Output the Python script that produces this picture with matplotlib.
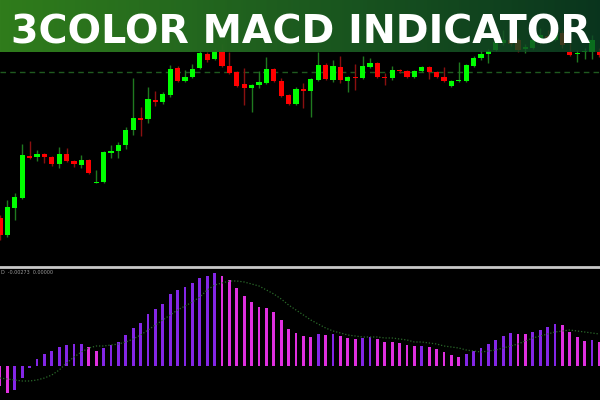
import numpy as np
import matplotlib
matplotlib.use("Agg")
import matplotlib.pyplot as plt

# candle data (price points)
opens = [182, 165, 192, 202, 244, 243, 246, 243, 236, 246, 239, 235, 240, 217.5, 218, 247, 249, 255, 270, 282,
         281, 300, 298, 305, 332, 319, 323, 332, 346, 341, 350, 334, 328, 316, 312, 315, 317, 331, 319, 305,
         296, 311, 309, 320, 335, 320, 333, 319, 323, 322, 333, 337, 323, 322, 330, 329, 323, 329, 333, 328,
         323, 314, 319, 319, 334, 342, 346, 350, 357, 360, 360, 351, 352, 358, 364, 360, 367, 348, 346, 348,
         348, 348]
closes = [165, 193, 203, 245, 242, 246, 243, 236, 246, 239, 236, 240, 227, 218.5, 248, 249, 255, 270, 282, 280,
          301, 298, 306, 331, 319, 323, 331, 347, 340, 349, 334, 327, 314, 312, 315, 318, 331, 319, 304, 296,
          311, 309, 321, 335, 321, 334, 320, 323, 322, 334, 337, 323, 322, 330, 329, 323, 329, 333, 328, 323,
          319, 319, 320, 335, 342, 346, 349, 358, 360, 356, 350, 353, 360, 365, 360, 368, 355, 345, 347, 349,
          360, 345]
highs = [185, 200, 207, 256, 259, 250, 247, 244, 253, 252, 240, 245, 241, 230, 249, 255, 258, 273, 322, 293,
         313, 309, 308, 335, 334, 330, 336, 350, 348, 352, 356, 348, 329, 332, 316, 329, 343, 332, 322, 306,
         313, 317, 322, 348, 337, 340, 344, 324, 336, 344, 342, 338, 327, 334, 331, 330, 330, 334, 334, 329,
         333, 320, 338, 336, 344, 350, 351, 362, 370, 367, 362, 356, 370, 372, 370, 375, 370, 360, 350, 352,
         365, 352]
lows = [160, 163, 180, 201, 241, 239, 237, 234, 232, 238, 233, 232, 226, 217, 217, 242, 242, 251, 265, 264,
        277, 294, 296, 303, 318, 318, 322, 331, 338, 340, 333, 326, 313, 295, 288, 312, 316, 318, 303, 295,
        295, 292, 283, 319, 320, 318, 317, 308, 310, 321, 332.5, 322, 315, 320, 327, 322, 322, 328, 321, 322,
        318, 313, 318, 318, 333, 340, 337, 349, 355, 354, 348, 347, 351, 356, 358, 359, 352, 344, 338, 341,
        341, 343]
level = 328

# MACD histogram and signal (x 1e-5)
macd = [-60, -81, -72, -36, -6, 21, 36, 45, 57, 63, 66, 67, 57, 45, 54, 63, 72, 93, 114, 129,
        156, 171, 186, 216, 228, 237, 249, 264, 270, 279, 270, 258, 234, 210, 192, 177, 174, 162, 138, 111,
        99, 90, 87, 96, 93, 96, 90, 84, 81, 84, 87, 81, 72, 71, 69, 63, 60, 61, 57, 51,
        42, 33, 27, 36, 45, 54, 66, 78, 90, 99, 96, 95, 102, 108, 117, 126, 123, 102, 87, 75,
        78, 72]
signal = [-36, -39, -42, -45, -45, -42, -36, -27, -12, 9, 27, 42, 54, 60, 60, 63, 66, 72, 81, 93,
          108, 123, 138, 153, 168, 180, 192, 207, 228, 243, 249, 255, 255, 252, 246, 240, 228, 216, 201, 183,
          168, 153, 138, 126, 114, 105, 99, 93, 90, 87, 87, 87, 84, 84, 81, 78, 72, 72, 69, 66,
          60, 57, 54, 48, 45, 42, 45, 48, 54, 60, 66, 75, 84, 90, 96, 102, 105, 108, 105, 102,
          99, 96]

title = "3COLOR MACD INDICATOR"

idx = np.arange(len(opens))
macd = np.array(macd) * 1e-5
signal = np.array(signal) * 1e-5

fig = plt.figure(figsize=(6, 4), dpi=100, facecolor="black")

# price panel
ax = fig.add_axes([0, 135 / 400, 1, 265 / 400], facecolor="black")
for i in idx:
    o, c, h, l = opens[i], closes[i], highs[i], lows[i]
    up = c >= o
    body_col = "#00ff00" if up else "#ff0000"
    wick_col = "#1f7a1f" if up else "#8a1010"
    ax.vlines(i, l, h, color=wick_col, linewidth=1, zorder=1)
    ax.bar(i, max(abs(c - o), 0.8), bottom=min(o, c), width=0.7, color=body_col, zorder=2)
ax.axhline(level, color="#1f5a1f", linewidth=1, linestyle=(0, (4, 3)), zorder=0)
ax.set_xlim(0, 81.08)
ax.set_ylim(135, 400)
ax.axis("off")

# MACD panel
ax2 = fig.add_axes([0, 0, 1, 133 / 400], facecolor="black")
diff = np.diff(macd, prepend=macd[0] + 1e-5)
colors = ["#8426e6" if d > 0 else "#e030e0" for d in diff]
ax2.bar(idx, macd, width=0.4, color=colors, zorder=2)
ax2.plot(idx, signal, color="#2a6a2a", linewidth=0.9, linestyle=(0, (1, 1.5)), zorder=3)
ax2.set_xlim(0, 81.08)
ax2.set_ylim(-0.00102, 0.00297)
ax2.set_xticks([])
ax2.set_yticks([])
for s in ["left", "right", "bottom"]:
    ax2.spines[s].set_visible(False)
ax2.spines["top"].set_color("#c8c8c8")
ax2.spines["top"].set_linewidth(2)
ax2.text(0.002, 0.975, "D  -0.00273  0.00000", transform=ax2.transAxes, color="#9a9a9a",
         fontsize=3.5, va="top", ha="left")

# title banner
bax = fig.add_axes([0, 1 - 52 / 400, 1, 52 / 400], zorder=10)
grad = np.zeros((1, 256, 4))
t = np.linspace(0, 1, 256)
left = np.array([0.19, 0.49, 0.11])
right = np.array([0.05, 0.27, 0.15])
grad[0, :, :3] = left + (right - left) * t[:, None]
grad[0, :, 3] = 1.0 - 0.22 * t ** 2
bax.imshow(grad, aspect="auto", extent=[0, 1, 0, 1])
bax.set_xlim(0, 1)
bax.set_ylim(0, 1)
bax.axis("off")

txt = fig.text(0.502, 1 - 43 / 400, title, color="white", fontsize=30, fontweight="bold",
               family="DejaVu Sans", ha="center", va="baseline", zorder=11)
fig.canvas.draw()
w = txt.get_window_extent().width
txt.set_fontsize(30 * 580 / w)

fig.savefig("out.png", dpi=100, facecolor="black")
